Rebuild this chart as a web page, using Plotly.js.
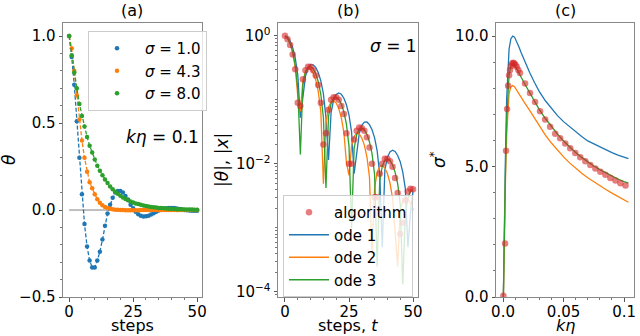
<!DOCTYPE html>
<html>
<head>
<meta charset="utf-8">
<script src="https://cdn.plot.ly/plotly-3.0.1.min.js"></script>
<style>html,body{margin:0;padding:0;background:#fff;}#chart{width:640px;height:336px;}</style>
</head>
<body>
<div id="chart"></div>
<script>
// ---------- DATA ----------
// panel (a): steps and theta for three sigma values (k*eta = 0.1)
const steps = [0,1,2,3,4,5,6,7,8,9,10,11,12,13,14,15,16,17,18,19,20,21,22,23,24,25,26,27,28,29,30,31,32,33,34,35,36,37,38,39,40,41,42,43,44,45,46,47,48,49,50];
const thetaSigma1 = [1.00,0.88,0.72,0.51,0.30,0.09,-0.08,-0.21,-0.29,-0.33,-0.33,-0.29,-0.24,-0.17,-0.09,-0.02,0.03,0.07,0.10,0.11,0.11,0.10,0.08,0.06,0.03,0.01,-0.01,-0.024,-0.033,-0.037,-0.036,-0.033,-0.026,-0.018,-0.010,-0.003,0.003,0.007,0.010,0.012,0.012,0.011,0.009,0.006,0.0035,0.0008,-0.0012,-0.0027,-0.0037,-0.0041,-0.0040];
const thetaSigma43 = [1.00,0.93,0.80,0.66,0.52,0.40,0.30,0.22,0.16,0.125,0.09,0.062,0.042,0.028,0.018,0.011,0.007,0.004,0.002,0.001,0.0,-0.0005,-0.001,-0.001,-0.001,-0.001,-0.001,-0.0008,-0.0006,-0.0005,-0.0004,-0.0003,-0.0003,-0.0002,-0.0002,-0.0001,-0.0001,-0.0001,0,0,0,0,0,0,0,0,0,0,0,0,0];
const thetaSigma8 = [1.00,0.89,0.79,0.70,0.61,0.54,0.48,0.42,0.37,0.33,0.29,0.255,0.225,0.20,0.175,0.155,0.135,0.12,0.105,0.093,0.082,0.072,0.063,0.056,0.049,0.043,0.038,0.034,0.030,0.026,0.023,0.020,0.018,0.016,0.014,0.012,0.011,0.0095,0.0083,0.0073,0.0064,0.0056,0.005,0.0044,0.0038,0.0034,0.003,0.0026,0.0023,0.002,0.0018];
const legendA = ['<i>σ</i> = 1.0', '<i>σ</i> = 4.3', '<i>σ</i> = 8.0'];

// panel (b): |x| from three ODE approximations, sigma = 1
const ode1Abs = [1.0,0.953,0.829,0.653,0.451,0.244,0.0525,0.110,0.233,0.314,0.352,0.352,0.322,0.267,0.198,0.1245,0.0527,0.0115,0.0629,0.100,0.121,0.128,0.122,0.106,0.0836,0.0579,0.0315,0.0070,0.0138,0.0296,0.040,0.0449,0.0451,0.041,0.0341,0.0254,0.016,0.0068,0.0005,0.0080,0.0126,0.0154,0.0163,0.0156,0.0135,0.0108,0.0074,0.0041,0.0005,0.0017,0.00375];
const ode2Abs = [1.0,0.920,0.757,0.546,0.322,0.1116,0.0657,0.197,0.278,0.311,0.302,0.263,0.2045,0.1345,0.0655,0.0049,0.0429,0.0762,0.0932,0.0968,0.0889,0.0729,0.0525,0.0308,0.0104,0.0066,0.0192,0.027,0.0301,0.0292,0.0254,0.0196,0.0129,0.0062,0.00038,0.0042,0.0074,0.0091,0.0094,0.0086,0.00705,0.00505,0.00295,0.00098,0.00025,0.00189,0.00263,0.00292,0.00283,0.00245,0.00188];
const ode3Abs = [1.0,0.919,0.766,0.567,0.353,0.147,0.014,0.174,0.271,0.322,0.331,0.306,0.257,0.192,0.121,0.053,0.0042,0.055,0.0878,0.1057,0.1097,0.1022,0.086,0.065,0.0416,0.0189,0.0010,0.0174,0.0285,0.0346,0.0362,0.034,0.0289,0.022,0.0144,0.00675,0.00025,0.0054,0.0092,0.01135,0.012,0.0113,0.00968,0.00743,0.0049,0.0024,0.00013,0.00166,0.00296,0.00371,0.00396];
const legendB = ['algorithm', 'ode 1', 'ode 2', 'ode 3'];

// panel (c): optimal sigma* vs k*eta
const kEtaCurve = [0.0003,0.001,0.002,0.003,0.004,0.005,0.0065,0.008,0.0095,0.011,0.013,0.015,0.018,0.022,0.026,0.03,0.035,0.04,0.045,0.05,0.055,0.06,0.065,0.07,0.075,0.08,0.085,0.09,0.095,0.1,0.1036];
const sigmaOde1 = [0,2.6,5.4,7.6,8.9,9.5,9.9,10.0,9.96,9.83,9.6,9.36,9.02,8.6,8.22,7.87,7.52,7.22,6.95,6.72,6.52,6.34,6.15,5.98,5.86,5.74,5.63,5.53,5.44,5.35,5.30];
const sigmaOde2 = [0,2.1,4.4,6.2,7.3,7.8,8.05,8.1,8.06,7.94,7.8,7.65,7.43,7.15,6.85,6.55,6.2,5.9,5.62,5.37,5.14,4.93,4.74,4.57,4.41,4.26,4.12,3.98,3.85,3.72,3.63];
const sigmaOde3 = [0,2.3,4.8,6.8,7.95,8.5,8.85,8.95,8.9,8.78,8.6,8.42,8.16,7.82,7.5,7.18,6.84,6.52,6.24,5.98,5.75,5.54,5.35,5.18,5.02,4.88,4.75,4.63,4.52,4.42,4.36];
const kEtaAlgo = [0.0003,0.0017,0.0025,0.0034,0.0042,0.005,0.0058,0.0067,0.0075,0.0084,0.0093,0.0102,0.0113,0.0127,0.014,0.0182,0.0223,0.0265,0.0306,0.0348,0.0389,0.0431,0.0472,0.0514,0.0555,0.0597,0.0638,0.068,0.0721,0.0763,0.0804,0.0846,0.0887,0.0929,0.097,0.1012];
const sigmaAlgo = [0.05,2.05,5.6,7.2,8.1,8.5,8.7,8.85,8.95,8.98,8.95,8.9,8.82,8.7,8.58,8.18,7.82,7.47,7.12,6.8,6.52,6.26,6.08,5.88,5.7,5.52,5.36,5.2,5.06,4.92,4.8,4.68,4.56,4.46,4.36,4.27];

// ---------- STYLE ----------
const C = {blue:'#1f77b4', orange:'#ff7f0e', green:'#2ca02c', red:'rgba(214,39,40,0.6)'};
const W = 640, H = 336;
const px = v => v / W, py = v => 1 - v / H;
const FONT = 'DejaVu Sans, Liberation Sans, sans-serif';

const traces = [];
// panel (a)
const aSeries = [[thetaSigma1, C.blue], [thetaSigma43, C.orange], [thetaSigma8, C.green]];
traces.push({x:[steps[0], steps[steps.length-1]], y:[0,0], mode:'lines', line:{color:'#808080', width:1}, showlegend:false, hoverinfo:'skip', xaxis:'x', yaxis:'y'});
aSeries.forEach(([ys, col], i) => {
  traces.push({x:steps, y:ys, mode:'lines', line:{color:col, width:1.3, dash:'4px,2px'}, showlegend:false, xaxis:'x', yaxis:'y'});
  traces.push({x:steps, y:ys, mode:'markers', marker:{color:col, size:4.5}, name:legendA[i], legend:'legend', xaxis:'x', yaxis:'y'});
});
// panel (b)
[[ode1Abs, C.blue], [ode2Abs, C.orange], [ode3Abs, C.green]].forEach(([ys, col], i) => {
  traces.push({x:steps, y:ys, mode:'lines', line:{color:col, width:1.3}, name:legendB[i+1], legend:'legend2', legendrank:i+2, xaxis:'x2', yaxis:'y2'});
});
traces.push({x:steps, y:thetaSigma1.map(v => Math.abs(v)), mode:'markers', marker:{color:C.red, size:6.5}, name:legendB[0], legend:'legend2', legendrank:1, xaxis:'x2', yaxis:'y2'});
// panel (c)
[[sigmaOde1, C.blue], [sigmaOde2, C.orange], [sigmaOde3, C.green]].forEach(([ys, col]) => {
  traces.push({x:kEtaCurve, y:ys, mode:'lines', line:{color:col, width:1.3}, showlegend:false, xaxis:'x3', yaxis:'y3'});
});
traces.push({x:kEtaAlgo, y:sigmaAlgo, mode:'markers', marker:{color:C.red, size:6.5}, showlegend:false, xaxis:'x3', yaxis:'y3'});

const axBase = {showline:true, mirror:true, linecolor:'#888', linewidth:1, ticks:'outside', ticklen:3.5, tickwidth:1, tickcolor:'#555',
  showgrid:false, zeroline:false, tickfont:{size:15, color:'#000', family:FONT}};
const xBase = Object.assign({}, axBase, {ticklabelstandoff:-3});
const minor = d => ({ticks:'outside', ticklen:2, tickwidth:1, tickcolor:'#777', dtick:d, showgrid:false});
const yDom = [py(297), py(23)];

const legendStyle = {bgcolor:'rgba(255,255,255,0.8)', bordercolor:'#cccccc', borderwidth:1, font:{size:15, family:FONT, color:'#000'}, xanchor:'left', yanchor:'top', tracegroupgap:0};

const F17 = {size:17, family:FONT, color:'#000'};
const F16 = {size:16, family:FONT, color:'#000'};
const ann = (text, x, y, extra) => Object.assign({text:text, xref:'paper', yref:'paper', x:px(x), y:py(y), showarrow:false, xanchor:'center', yanchor:'middle', font:{size:16, family:FONT, color:'#000'}}, extra || {});

const layout = {
  width:W, height:H, margin:{l:0, r:0, t:0, b:0}, paper_bgcolor:'#fff', plot_bgcolor:'#fff',
  font:{family:FONT, size:15, color:'#000'}, showlegend:true,
  xaxis: Object.assign({}, xBase, {domain:[px(63), px(201.5)], range:[-2.4, 51.7], tick0:0, dtick:25, minor:minor(5), anchor:'y'}),
  yaxis: Object.assign({}, axBase, {domain:yDom, range:[-0.5, 1.075], tick0:0, dtick:0.5, tickformat:'.1f', minor:minor(0.1), anchor:'x'}),
  xaxis2: Object.assign({}, xBase, {domain:[px(278), px(418)], range:[-2.73, 51.95], tick0:0, dtick:25, minor:minor(5), anchor:'y2'}),
  yaxis2: Object.assign({}, axBase, {domain:yDom, type:'log', range:[-4.08, 0.2], tickmode:'array', tickvals:[1, 0.01, 0.0001],
    ticktext:['10<sup>0</sup>', '10<sup>−2</sup>', '10<sup>−4</sup>'], minor:{ticks:'outside', ticklen:2, tickcolor:'#777', dtick:'D1', showgrid:false}, anchor:'x2'}),
  xaxis3: Object.assign({}, xBase, {domain:[px(496), px(633.5)], range:[-0.0058, 0.1078], tickmode:'array', tickvals:[0, 0.05, 0.1], ticktext:['0.0', '0.05', '0.1'], minor:minor(0.01), anchor:'y3'}),
  yaxis3: Object.assign({}, axBase, {domain:yDom, range:[0, 10.5], tick0:0, dtick:5, tickformat:'.1f', minor:minor(1), anchor:'x3'}),
  legend: Object.assign({}, legendStyle, {x:px(88), y:py(31), itemwidth:46}),
  legend2: Object.assign({}, legendStyle, {x:px(283), y:py(195), itemwidth:40}),
  annotations: [
    ann('(a)', 132, 11), ann('(b)', 348, 11), ann('(c)', 565, 11),
    ann('steps', 132, 325.5, {font:F16}),
    ann('steps, <i>t</i>', 348, 325.5, {font:F16}),
    ann('<i>kη</i>', 565, 325.5, {font:F16}),
    ann('<i>θ</i>', 9, 160, {textangle:-90, font:F17}),
    ann('|<i>θ</i>|, |<i>x</i>|', 222, 160, {textangle:-90, font:F17}),
    ann('<i>σ</i><sup>*</sup>', 438, 160, {textangle:-90, font:F17}),
    ann('<i>kη</i> = 0.1', 162, 137, {font:F17}),
    ann('<i>σ</i> = 1', 393, 46, {font:F17})
  ]
};

Plotly.newPlot('chart', traces, layout, {displayModeBar:false, staticPlot:true});
</script>
</body>
</html>
